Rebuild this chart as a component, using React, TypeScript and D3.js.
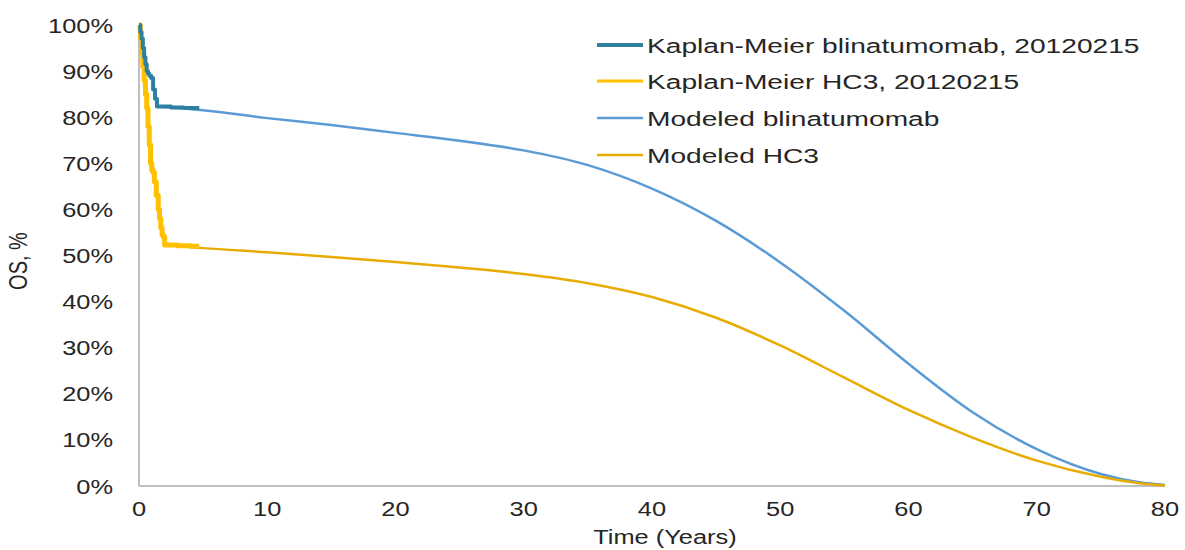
import * as d3 from "d3";
import { useEffect, useRef } from "react";

// x ticks (years) and y ticks (%)
const xTicks = [0, 10, 20, 30, 40, 50, 60, 70, 80];
const yTicks = [0, 10, 20, 30, 40, 50, 60, 70, 80, 90, 100];

// Kaplan-Meier blinatumomab, 20120215 (step curve)
const kmBlinT = [0, 0.1, 0.2, 0.3, 0.4, 0.5, 0.6, 0.7, 0.8, 0.95, 1.1, 1.25, 1.4, 2.5, 3.5, 4.7];
const kmBlinV = [100, 98.5, 97, 95, 93, 91.5, 90, 89.5, 89, 88.5, 86, 84, 82.3, 82.1, 82.0, 82.0];

// Kaplan-Meier HC3, 20120215 (step curve)
const kmHc3T = [0, 0.1, 0.2, 0.3, 0.4, 0.5, 0.6, 0.7, 0.8, 0.9, 1.0, 1.1, 1.2, 1.35, 1.5, 1.6, 1.7, 1.8, 1.9, 2.0, 3, 4, 4.7];
const kmHc3V = [100, 97, 94, 91, 88, 85, 82, 78, 74, 70, 68.5, 68, 66, 63, 60, 58, 56, 54.5, 54, 52.3, 52.1, 52, 52];

// Modeled blinatumomab
const modBlinT = [1.4, 5, 10, 15, 20, 25, 30, 35, 40, 45, 50, 55, 60, 65, 70, 75, 78, 80];
const modBlinV = [82.3, 81.5, 79.8, 78.3, 76.6, 74.9, 72.8, 69.6, 64.5, 57.5, 48.5, 38, 26.5, 16, 8, 2.6, 0.8, 0.2];

// Modeled HC3
const modHc3T = [2, 5, 10, 15, 20, 25, 30, 35, 40, 45, 50, 55, 60, 65, 70, 75, 78, 80];
const modHc3V = [52.3, 51.6, 50.7, 49.7, 48.6, 47.4, 46, 44, 41, 36.5, 30.5, 23.5, 16.5, 10.5, 5.5, 2, 0.6, 0.1];

const legendLabels = [
  "Kaplan-Meier blinatumomab, 20120215",
  "Kaplan-Meier HC3, 20120215",
  "Modeled blinatumomab",
  "Modeled HC3",
];

const width = 1185;
const height = 550;
const font = "'Liberation Sans', Arial, sans-serif";
const stretch = 1.27; // the reference text is wider than plain Arial

const App = () => {
  const svgRef = useRef<SVGSVGElement>(null);

  useEffect(() => {
    const svg = d3.select(svgRef.current);
    svg.selectAll("*").remove();

    const x = d3.scaleLinear().domain([0, 80]).range([139, 1165]);
    const y = d3.scaleLinear().domain([0, 100]).range([486, 25]);

    // axis lines
    svg
      .append("line")
      .attr("x1", x(0))
      .attr("x2", x(0))
      .attr("y1", y(100))
      .attr("y2", y(0))
      .attr("stroke", "#bfbfbf")
      .attr("stroke-width", 2);
    svg
      .append("line")
      .attr("x1", x(0))
      .attr("x2", x(80))
      .attr("y1", y(0))
      .attr("y2", y(0))
      .attr("stroke", "#bfbfbf")
      .attr("stroke-width", 2);

    // y tick labels
    svg
      .selectAll(".ylab")
      .data(yTicks)
      .enter()
      .append("text")
      .attr("class", "ylab")
      .attr("transform", (d) => `translate(113,${y(d) + 7.5}) scale(${stretch},1)`)
      .attr("text-anchor", "end")
      .attr("font-family", font)
      .attr("font-size", 20)
      .attr("fill", "#262626")
      .text((d) => `${d}%`);

    // x tick labels
    svg
      .selectAll(".xlab")
      .data(xTicks)
      .enter()
      .append("text")
      .attr("class", "xlab")
      .attr("transform", (d) => `translate(${x(d)},516) scale(${stretch},1)`)
      .attr("text-anchor", "middle")
      .attr("font-family", font)
      .attr("font-size", 20)
      .attr("fill", "#262626")
      .text((d) => d);

    // axis titles
    svg
      .append("text")
      .attr("transform", `translate(665,544) scale(${stretch},1)`)
      .attr("text-anchor", "middle")
      .attr("font-family", font)
      .attr("font-size", 20)
      .attr("fill", "#262626")
      .text("Time (Years)");
    svg
      .append("text")
      .attr("transform", `translate(27,261) rotate(-90) scale(1,${stretch})`)
      .attr("text-anchor", "middle")
      .attr("font-family", font)
      .attr("font-size", 20)
      .attr("fill", "#262626")
      .text("OS, %");

    const series = [
      { t: modBlinT, v: modBlinV, color: "#5b9bd5", w: 2.5, step: false },
      { t: modHc3T, v: modHc3V, color: "#e8ac00", w: 2.5, step: false },
      { t: kmHc3T, v: kmHc3V, color: "#ffc000", w: 5, step: true },
      { t: kmBlinT, v: kmBlinV, color: "#2e7fa0", w: 4, step: true },
    ];

    series.forEach((s) => {
      const gen = d3
        .line<number>()
        .x((d) => x(d))
        .y((d, i) => y(s.v[i]))
        .curve(s.step ? d3.curveStepAfter : d3.curveMonotoneX);
      svg
        .append("path")
        .attr("d", gen(s.t))
        .attr("fill", "none")
        .attr("stroke", s.color)
        .attr("stroke-width", s.w)
        .attr("stroke-linejoin", "round");
    });

    // legend
    const legendColors = ["#2e7fa0", "#ffc000", "#5b9bd5", "#e8ac00"];
    const legendWidths = [4, 3, 2.5, 2.5];
    const legendY = [45, 81, 118, 155];
    legendLabels.forEach((label, i) => {
      svg
        .append("line")
        .attr("x1", 597)
        .attr("x2", 643)
        .attr("y1", legendY[i])
        .attr("y2", legendY[i])
        .attr("stroke", legendColors[i])
        .attr("stroke-width", legendWidths[i]);
      svg
        .append("text")
        .attr("transform", `translate(647,${legendY[i] + 7.5}) scale(1.34,1)`)
        .attr("font-family", font)
        .attr("font-size", 21)
        .attr("fill", "#262626")
        .text(label);
    });
  }, []);

  return (
    <svg
      ref={svgRef}
      width={width}
      height={height}
      style={{ position: "absolute", left: 0, top: 0, background: "white" }}
    />
  );
};

export default App;
